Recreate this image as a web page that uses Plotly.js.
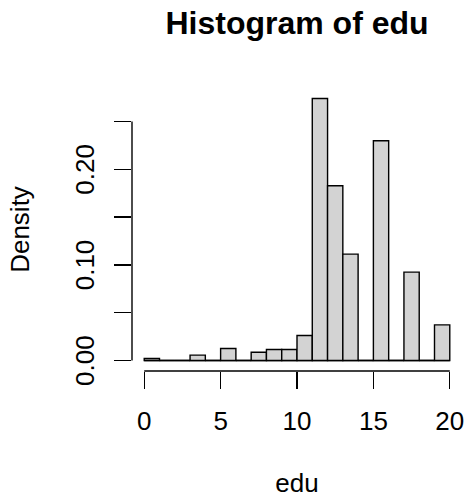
<!DOCTYPE html>
<html>
<head>
<meta charset="utf-8">
<script src="https://cdn.plot.ly/plotly-3.0.1.min.js"></script>
<style>html,body{margin:0;padding:0;background:#fff;}#chart{width:468px;height:498px;}</style>
</head>
<body>
<div id="chart"></div>
<script>
// Bin edges (break points) of the histogram
var binEdges = [0,1,2,3,4,5,6,7,8,9,10,11,12,13,14,15,16,17,18,19,20];
// Density of each bin
var densities = [0.0021, 0, 0, 0.0056, 0, 0.0126, 0, 0.0087, 0.0115, 0.0115,
                 0.0262, 0.2740, 0.1827, 0.1112, 0, 0.2298, 0, 0.0924, 0, 0.0373];
var xTicks = [0, 5, 10, 15, 20];
var xTickLabels = ['0', '5', '10', '15', '20'];
var yTicks = [0, 0.05, 0.10, 0.15, 0.20, 0.25];
var yTickLabels = ['0.00', '', '0.10', '', '0.20', ''];

var centers = [], widths = [];
for (var i = 0; i < binEdges.length - 1; i++) {
  centers.push((binEdges[i] + binEdges[i+1]) / 2);
  widths.push(binEdges[i+1] - binEdges[i]);
}
var font = 'Liberation Sans, Arial, Helvetica, sans-serif';
var lw = 1.4;
var trace = {type: 'bar', x: centers, y: densities, width: widths,
  marker: {color: '#D3D3D3', line: {color: '#000', width: lw}}, hoverinfo: 'skip'};
var xmin = binEdges[0], xmax = binEdges[binEdges.length-1];
var xpad = (xmax - xmin) * 0.04;
var ymax = Math.max.apply(null, densities);
var ypad = ymax * 0.04;
var layout = {
  width: 468, height: 498,
  margin: {l: 132, r: 6, t: 88, b: 127},
  paper_bgcolor: '#fff', plot_bgcolor: '#fff',
  font: {family: font, size: 26, color: '#000'},
  showlegend: false, bargap: 0,
  title: {text: '<b>Histogram of edu</b>', font: {family: font, size: 32, color: '#000'},
          x: 0.5, xref: 'paper', xanchor: 'center', y: 1 - 22.5/498, yref: 'container', yanchor: 'middle'},
  xaxis: {range: [xmin - xpad, xmax + xpad], tickvals: xTicks, ticktext: xTickLabels,
    ticks: 'outside', ticklen: 17, tickwidth: lw, tickcolor: '#000', ticklabelstandoff: 10,
    showline: false, showgrid: false, zeroline: false,
    tickfont: {family: font, size: 26, color: '#000'},
    title: {text: 'edu', font: {family: font, size: 26, color: '#000'}, standoff: 39}, fixedrange: true},
  yaxis: {range: [-ypad, ymax + ypad], tickvals: yTicks, ticktext: yTickLabels, tickangle: -90,
    ticks: 'outside', ticklen: 17, tickwidth: lw, tickcolor: '#000', ticklabelstandoff: 10, ticklabelshift: 4,
    showline: false, showgrid: false, zeroline: false,
    tickfont: {family: font, size: 26, color: '#000'},
    title: {text: 'Density', font: {family: font, size: 26, color: '#000'}, standoff: 32}, fixedrange: true},
  shapes: [
    {type: 'line', xref: 'x', yref: 'paper', x0: xTicks[0], x1: xTicks[xTicks.length-1], y0: 0, y1: 0, line: {color: '#000', width: lw}},
    {type: 'line', xref: 'paper', yref: 'y', x0: 0, x1: 0, y0: yTicks[0], y1: yTicks[yTicks.length-1], line: {color: '#000', width: lw}},
    {type: 'line', xref: 'x', yref: 'y', x0: binEdges[0], x1: binEdges[binEdges.length-1], y0: 0, y1: 0, layer: 'below', line: {color: '#000', width: lw}}
  ]
};
Plotly.newPlot('chart', [trace], layout, {displayModeBar: false, staticPlot: true});
</script>
</body>
</html>
